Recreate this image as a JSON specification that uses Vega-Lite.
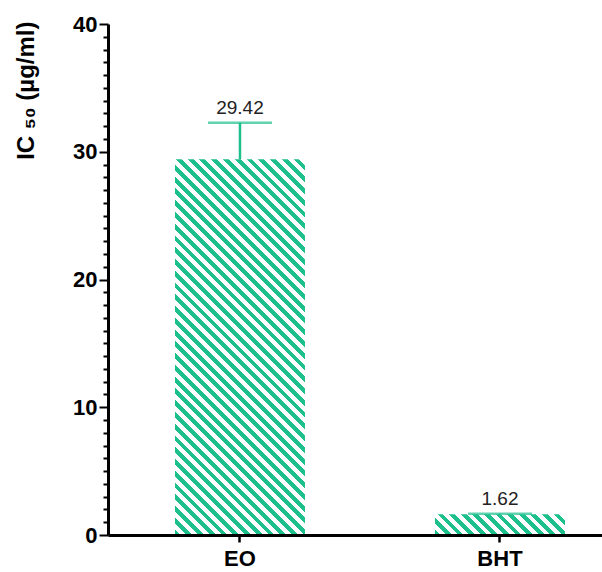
{
"$schema": "https://vega.github.io/schema/vega-lite/v6.json",
"autosize": {"type": "none"},
"padding": {"left": 108, "top": 24, "right": 0, "bottom": 37},
"width": 494,
"height": 511,
"background": "white",
"config": {"view": {"stroke": null}, "font": "Liberation Sans",
"axisY": {"labelFont": "Liberation Sans", "labelFontSize": 22, "labelFontWeight": "bold", "labelColor": "black", "labelPadding": 2,
"domainColor": "#000000", "domainWidth": 3, "grid": false, "labelOverlap": false,
"titleFont": "Liberation Sans", "titleFontSize": 24, "titleFontWeight": "bold", "titleColor": "black",
"titleAngle": -90, "titleAlign": "right", "titleBaseline": "alphabetic", "titleX": -75, "titleY": -3}},
"data": {"values": [
{"name": "EO", "value": 29.42, "upper": 32.27},
{"name": "BHT", "value": 1.62, "upper": 1.67}
]},
"encoding": {
"x": {"field": "name", "type": "nominal", "title": null,
"scale": {"domain": ["EO", "BHT"], "paddingInner": 0.5, "paddingOuter": 0.2, "align": 0.644},
"axis": {"labelAngle": 0, "labelFont": "Liberation Sans", "labelFontSize": 22, "labelFontWeight": "bold", "labelColor": "black", "zindex": 2,
"domainColor": "#000000", "domainWidth": 3, "ticks": true, "tickColor": "#000000", "tickWidth": 2.5, "tickSize": 7, "labelPadding": 6}},
"y": {"field": "value", "type": "quantitative", "title": "IC ₅₀ (µg/ml)",
"scale": {"domain": [0, 40], "nice": false, "zero": true},
"axis": {"values": [0,1,2,3,4,5,6,7,8,9,10,11,12,13,14,15,16,17,18,19,20,21,22,23,24,25,26,27,28,29,30,31,32,33,34,35,36,37,38,39,40],
"labelExpr": "datum.value % 10 === 0 ? datum.label : ''", "zindex": 2, "ticks": true, "tickColor": "#000000", "tickWidth": 2,
"tickSize": {"condition": {"test": "datum.value % 10 === 0", "value": 9}, "value": 5}}}
},
"layer": [
{"transform": [{"filter": "datum.name === 'EO'"}],
"mark": {"type": "bar", "fill": {"gradient": "linear", "x1": 0, "y1": 1, "x2": 0.41579, "y2": -0.20209, "stops": [
{"offset":0,"color":"#1DBF8C"},{"offset":0.01163,"color":"#1DBF8C"},{"offset":0.01163,"color":"#FFFFFF"},{"offset":0.02326,"color":"#FFFFFF"},
{"offset":0.02326,"color":"#1DBF8C"},{"offset":0.03488,"color":"#1DBF8C"},{"offset":0.03488,"color":"#FFFFFF"},{"offset":0.04651,"color":"#FFFFFF"},
{"offset":0.04651,"color":"#1DBF8C"},{"offset":0.05814,"color":"#1DBF8C"},{"offset":0.05814,"color":"#FFFFFF"},{"offset":0.06977,"color":"#FFFFFF"},
{"offset":0.06977,"color":"#1DBF8C"},{"offset":0.08140,"color":"#1DBF8C"},{"offset":0.08140,"color":"#FFFFFF"},{"offset":0.09302,"color":"#FFFFFF"},
{"offset":0.09302,"color":"#1DBF8C"},{"offset":0.10465,"color":"#1DBF8C"},{"offset":0.10465,"color":"#FFFFFF"},{"offset":0.11628,"color":"#FFFFFF"},
{"offset":0.11628,"color":"#1DBF8C"},{"offset":0.12791,"color":"#1DBF8C"},{"offset":0.12791,"color":"#FFFFFF"},{"offset":0.13953,"color":"#FFFFFF"},
{"offset":0.13953,"color":"#1DBF8C"},{"offset":0.15116,"color":"#1DBF8C"},{"offset":0.15116,"color":"#FFFFFF"},{"offset":0.16279,"color":"#FFFFFF"},
{"offset":0.16279,"color":"#1DBF8C"},{"offset":0.17442,"color":"#1DBF8C"},{"offset":0.17442,"color":"#FFFFFF"},{"offset":0.18605,"color":"#FFFFFF"},
{"offset":0.18605,"color":"#1DBF8C"},{"offset":0.19767,"color":"#1DBF8C"},{"offset":0.19767,"color":"#FFFFFF"},{"offset":0.20930,"color":"#FFFFFF"},
{"offset":0.20930,"color":"#1DBF8C"},{"offset":0.22093,"color":"#1DBF8C"},{"offset":0.22093,"color":"#FFFFFF"},{"offset":0.23256,"color":"#FFFFFF"},
{"offset":0.23256,"color":"#1DBF8C"},{"offset":0.24419,"color":"#1DBF8C"},{"offset":0.24419,"color":"#FFFFFF"},{"offset":0.25581,"color":"#FFFFFF"},
{"offset":0.25581,"color":"#1DBF8C"},{"offset":0.26744,"color":"#1DBF8C"},{"offset":0.26744,"color":"#FFFFFF"},{"offset":0.27907,"color":"#FFFFFF"},
{"offset":0.27907,"color":"#1DBF8C"},{"offset":0.29070,"color":"#1DBF8C"},{"offset":0.29070,"color":"#FFFFFF"},{"offset":0.30233,"color":"#FFFFFF"},
{"offset":0.30233,"color":"#1DBF8C"},{"offset":0.31395,"color":"#1DBF8C"},{"offset":0.31395,"color":"#FFFFFF"},{"offset":0.32558,"color":"#FFFFFF"},
{"offset":0.32558,"color":"#1DBF8C"},{"offset":0.33721,"color":"#1DBF8C"},{"offset":0.33721,"color":"#FFFFFF"},{"offset":0.34884,"color":"#FFFFFF"},
{"offset":0.34884,"color":"#1DBF8C"},{"offset":0.36047,"color":"#1DBF8C"},{"offset":0.36047,"color":"#FFFFFF"},{"offset":0.37209,"color":"#FFFFFF"},
{"offset":0.37209,"color":"#1DBF8C"},{"offset":0.38372,"color":"#1DBF8C"},{"offset":0.38372,"color":"#FFFFFF"},{"offset":0.39535,"color":"#FFFFFF"},
{"offset":0.39535,"color":"#1DBF8C"},{"offset":0.40698,"color":"#1DBF8C"},{"offset":0.40698,"color":"#FFFFFF"},{"offset":0.41860,"color":"#FFFFFF"},
{"offset":0.41860,"color":"#1DBF8C"},{"offset":0.43023,"color":"#1DBF8C"},{"offset":0.43023,"color":"#FFFFFF"},{"offset":0.44186,"color":"#FFFFFF"},
{"offset":0.44186,"color":"#1DBF8C"},{"offset":0.45349,"color":"#1DBF8C"},{"offset":0.45349,"color":"#FFFFFF"},{"offset":0.46512,"color":"#FFFFFF"},
{"offset":0.46512,"color":"#1DBF8C"},{"offset":0.47674,"color":"#1DBF8C"},{"offset":0.47674,"color":"#FFFFFF"},{"offset":0.48837,"color":"#FFFFFF"},
{"offset":0.48837,"color":"#1DBF8C"},{"offset":0.50000,"color":"#1DBF8C"},{"offset":0.50000,"color":"#FFFFFF"},{"offset":0.51163,"color":"#FFFFFF"},
{"offset":0.51163,"color":"#1DBF8C"},{"offset":0.52326,"color":"#1DBF8C"},{"offset":0.52326,"color":"#FFFFFF"},{"offset":0.53488,"color":"#FFFFFF"},
{"offset":0.53488,"color":"#1DBF8C"},{"offset":0.54651,"color":"#1DBF8C"},{"offset":0.54651,"color":"#FFFFFF"},{"offset":0.55814,"color":"#FFFFFF"},
{"offset":0.55814,"color":"#1DBF8C"},{"offset":0.56977,"color":"#1DBF8C"},{"offset":0.56977,"color":"#FFFFFF"},{"offset":0.58140,"color":"#FFFFFF"},
{"offset":0.58140,"color":"#1DBF8C"},{"offset":0.59302,"color":"#1DBF8C"},{"offset":0.59302,"color":"#FFFFFF"},{"offset":0.60465,"color":"#FFFFFF"},
{"offset":0.60465,"color":"#1DBF8C"},{"offset":0.61628,"color":"#1DBF8C"},{"offset":0.61628,"color":"#FFFFFF"},{"offset":0.62791,"color":"#FFFFFF"},
{"offset":0.62791,"color":"#1DBF8C"},{"offset":0.63953,"color":"#1DBF8C"},{"offset":0.63953,"color":"#FFFFFF"},{"offset":0.65116,"color":"#FFFFFF"},
{"offset":0.65116,"color":"#1DBF8C"},{"offset":0.66279,"color":"#1DBF8C"},{"offset":0.66279,"color":"#FFFFFF"},{"offset":0.67442,"color":"#FFFFFF"},
{"offset":0.67442,"color":"#1DBF8C"},{"offset":0.68605,"color":"#1DBF8C"},{"offset":0.68605,"color":"#FFFFFF"},{"offset":0.69767,"color":"#FFFFFF"},
{"offset":0.69767,"color":"#1DBF8C"},{"offset":0.70930,"color":"#1DBF8C"},{"offset":0.70930,"color":"#FFFFFF"},{"offset":0.72093,"color":"#FFFFFF"},
{"offset":0.72093,"color":"#1DBF8C"},{"offset":0.73256,"color":"#1DBF8C"},{"offset":0.73256,"color":"#FFFFFF"},{"offset":0.74419,"color":"#FFFFFF"},
{"offset":0.74419,"color":"#1DBF8C"},{"offset":0.75581,"color":"#1DBF8C"},{"offset":0.75581,"color":"#FFFFFF"},{"offset":0.76744,"color":"#FFFFFF"},
{"offset":0.76744,"color":"#1DBF8C"},{"offset":0.77907,"color":"#1DBF8C"},{"offset":0.77907,"color":"#FFFFFF"},{"offset":0.79070,"color":"#FFFFFF"},
{"offset":0.79070,"color":"#1DBF8C"},{"offset":0.80233,"color":"#1DBF8C"},{"offset":0.80233,"color":"#FFFFFF"},{"offset":0.81395,"color":"#FFFFFF"},
{"offset":0.81395,"color":"#1DBF8C"},{"offset":0.82558,"color":"#1DBF8C"},{"offset":0.82558,"color":"#FFFFFF"},{"offset":0.83721,"color":"#FFFFFF"},
{"offset":0.83721,"color":"#1DBF8C"},{"offset":0.84884,"color":"#1DBF8C"},{"offset":0.84884,"color":"#FFFFFF"},{"offset":0.86047,"color":"#FFFFFF"},
{"offset":0.86047,"color":"#1DBF8C"},{"offset":0.87209,"color":"#1DBF8C"},{"offset":0.87209,"color":"#FFFFFF"},{"offset":0.88372,"color":"#FFFFFF"},
{"offset":0.88372,"color":"#1DBF8C"},{"offset":0.89535,"color":"#1DBF8C"},{"offset":0.89535,"color":"#FFFFFF"},{"offset":0.90698,"color":"#FFFFFF"},
{"offset":0.90698,"color":"#1DBF8C"},{"offset":0.91860,"color":"#1DBF8C"},{"offset":0.91860,"color":"#FFFFFF"},{"offset":0.93023,"color":"#FFFFFF"},
{"offset":0.93023,"color":"#1DBF8C"},{"offset":0.94186,"color":"#1DBF8C"},{"offset":0.94186,"color":"#FFFFFF"},{"offset":0.95349,"color":"#FFFFFF"},
{"offset":0.95349,"color":"#1DBF8C"},{"offset":0.96512,"color":"#1DBF8C"},{"offset":0.96512,"color":"#FFFFFF"},{"offset":0.97674,"color":"#FFFFFF"},
{"offset":0.97674,"color":"#1DBF8C"},{"offset":0.98837,"color":"#1DBF8C"},{"offset":0.98837,"color":"#FFFFFF"},{"offset":1,"color":"#FFFFFF"}
]}}
},
{"transform": [{"filter": "datum.name === 'BHT'"}],
"mark": {"type": "bar", "fill": {"gradient": "linear", "x1": 0, "y1": 1, "x2": 1.13057, "y2": 0.82001, "stops": [
{"offset":0,"color":"#1DBF8C"},{"offset":0.03846,"color":"#1DBF8C"},{"offset":0.03846,"color":"#FFFFFF"},{"offset":0.07692,"color":"#FFFFFF"},
{"offset":0.07692,"color":"#1DBF8C"},{"offset":0.11538,"color":"#1DBF8C"},{"offset":0.11538,"color":"#FFFFFF"},{"offset":0.15385,"color":"#FFFFFF"},
{"offset":0.15385,"color":"#1DBF8C"},{"offset":0.19231,"color":"#1DBF8C"},{"offset":0.19231,"color":"#FFFFFF"},{"offset":0.23077,"color":"#FFFFFF"},
{"offset":0.23077,"color":"#1DBF8C"},{"offset":0.26923,"color":"#1DBF8C"},{"offset":0.26923,"color":"#FFFFFF"},{"offset":0.30769,"color":"#FFFFFF"},
{"offset":0.30769,"color":"#1DBF8C"},{"offset":0.34615,"color":"#1DBF8C"},{"offset":0.34615,"color":"#FFFFFF"},{"offset":0.38462,"color":"#FFFFFF"},
{"offset":0.38462,"color":"#1DBF8C"},{"offset":0.42308,"color":"#1DBF8C"},{"offset":0.42308,"color":"#FFFFFF"},{"offset":0.46154,"color":"#FFFFFF"},
{"offset":0.46154,"color":"#1DBF8C"},{"offset":0.50000,"color":"#1DBF8C"},{"offset":0.50000,"color":"#FFFFFF"},{"offset":0.53846,"color":"#FFFFFF"},
{"offset":0.53846,"color":"#1DBF8C"},{"offset":0.57692,"color":"#1DBF8C"},{"offset":0.57692,"color":"#FFFFFF"},{"offset":0.61538,"color":"#FFFFFF"},
{"offset":0.61538,"color":"#1DBF8C"},{"offset":0.65385,"color":"#1DBF8C"},{"offset":0.65385,"color":"#FFFFFF"},{"offset":0.69231,"color":"#FFFFFF"},
{"offset":0.69231,"color":"#1DBF8C"},{"offset":0.73077,"color":"#1DBF8C"},{"offset":0.73077,"color":"#FFFFFF"},{"offset":0.76923,"color":"#FFFFFF"},
{"offset":0.76923,"color":"#1DBF8C"},{"offset":0.80769,"color":"#1DBF8C"},{"offset":0.80769,"color":"#FFFFFF"},{"offset":0.84615,"color":"#FFFFFF"},
{"offset":0.84615,"color":"#1DBF8C"},{"offset":0.88462,"color":"#1DBF8C"},{"offset":0.88462,"color":"#FFFFFF"},{"offset":0.92308,"color":"#FFFFFF"},
{"offset":0.92308,"color":"#1DBF8C"},{"offset":0.96154,"color":"#1DBF8C"},{"offset":0.96154,"color":"#FFFFFF"},{"offset":1,"color":"#FFFFFF"}
]}}
},
{"mark": {"type": "rule", "color": "#1DBF8C", "strokeWidth": 2.5},
"encoding": {"y2": {"field": "upper"}}},
{"mark": {"type": "tick", "color": "#1DBF8C", "size": 64, "thickness": 2.5, "orient": "horizontal"},
"encoding": {"y": {"field": "upper", "type": "quantitative", "title": "IC ₅₀ (µg/ml)",
"axis": {"values": [0,1,2,3,4,5,6,7,8,9,10,11,12,13,14,15,16,17,18,19,20,21,22,23,24,25,26,27,28,29,30,31,32,33,34,35,36,37,38,39,40],
"labelExpr": "datum.value % 10 === 0 ? datum.label : ''", "zindex": 2, "ticks": true, "tickColor": "#000000", "tickWidth": 2,
"tickSize": {"condition": {"test": "datum.value % 10 === 0", "value": 9}, "value": 5}}}}},
{"mark": {"type": "text", "baseline": "alphabetic", "dy": -9, "fontSize": 19, "font": "Liberation Sans", "color": "#222222"},
"encoding": {"y": {"field": "upper", "type": "quantitative", "title": "IC ₅₀ (µg/ml)",
"axis": {"values": [0,1,2,3,4,5,6,7,8,9,10,11,12,13,14,15,16,17,18,19,20,21,22,23,24,25,26,27,28,29,30,31,32,33,34,35,36,37,38,39,40],
"labelExpr": "datum.value % 10 === 0 ? datum.label : ''", "zindex": 2, "ticks": true, "tickColor": "#000000", "tickWidth": 2,
"tickSize": {"condition": {"test": "datum.value % 10 === 0", "value": 9}, "value": 5}}},
"text": {"field": "value", "type": "quantitative", "format": ".2f"}}}
]
}
